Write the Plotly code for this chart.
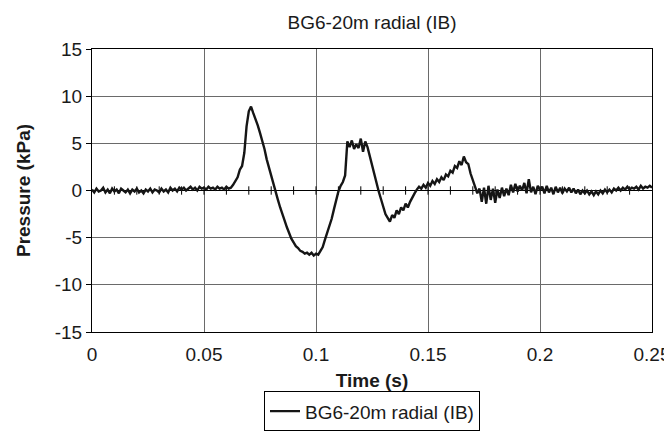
import plotly.graph_objects as go

# === Data (1 ms sampling, kPa) ===
series_name = "BG6-20m radial (IB)"
pressure_kpa = [
    # 0.000 - 0.062
    0.1, -0.2, 0.2, -0.1, 0.0, 0.3, -0.2, 0.1, -0.3, 0.2,
    -0.1, 0.1, -0.3, 0.2, 0.0, -0.2, 0.1, -0.3, 0.1, -0.1,
    0.2, -0.2, 0.0, -0.3, 0.1, -0.1, 0.2, -0.2, 0.1, 0.0,
    -0.2, 0.2, -0.1, 0.1, -0.2, 0.3, 0.0, 0.2, -0.1, 0.3,
    0.1, 0.3, 0.0, 0.2, 0.4, 0.1, 0.3, 0.0, 0.4, 0.2,
    0.3, 0.1, 0.4, 0.2, 0.3, 0.1, 0.4, 0.2, 0.3, 0.1,
    0.4, 0.2, 0.3,
    # 0.063 - 0.099  first peak and trough
    0.6, 1.0, 1.4, 2.2, 2.6, 4.0, 6.8, 8.4, 8.9, 8.2,
    7.6, 6.9, 6.1, 5.3, 4.4, 3.3, 2.4, 1.4, 0.5, -0.3,
    -1.0, -1.8, -2.6, -3.2, -3.9, -4.6, -5.1, -5.5, -5.9, -6.1,
    -6.4, -6.5, -6.7, -6.6, -6.8, -6.6, -6.9,
    # 0.100 - 0.149
    -6.7, -6.8, -6.4, -6.0, -5.2, -4.5, -3.8, -3.0, -2.0, -1.0,
    -0.1, 0.5, 0.9, 1.6, 5.2, 4.6, 5.3, 4.4, 4.9, 4.5,
    5.5, 4.1, 5.2, 4.6, 3.6, 2.6, 1.7, 0.8, -0.1, -0.9,
    -1.8, -2.5, -2.9, -3.3, -2.6, -2.9, -2.1, -2.5, -1.8, -2.1,
    -1.4, -1.8, -1.2, -0.7, -0.3, 0.1, 0.4, 0.2, 0.6, 0.3,
    # 0.150 - 0.199
    0.8, 0.5, 1.0, 0.7, 1.2, 0.9, 1.4, 1.1, 1.7, 1.5,
    2.1, 1.9, 2.6, 2.4, 3.1, 2.7, 3.6, 3.0, 2.8, 1.8,
    1.0, 0.4, -0.3, 0.2, -1.2, 0.3, -1.4, 0.5, -1.0, 0.2,
    -1.3, 0.1, -0.8, 0.3, -0.6, 0.2, -0.5, 0.6, -0.2, 0.7,
    -0.1, 0.5, 0.0, 0.8, -0.3, 1.2, -0.2, 0.4, -0.4, 0.5,
    # 0.200 - 0.250
    0.0, 0.4, -0.3, 0.5, -0.2, 0.3, -0.4, 0.4, -0.2, 0.3,
    -0.3, 0.2, -0.1, 0.3, -0.2, 0.2, -0.3, 0.1, -0.4, 0.0,
    -0.3, 0.0, -0.4, -0.1, -0.5, -0.1, -0.4, 0.0, -0.3, 0.1,
    -0.2, 0.1, -0.2, 0.2, 0.0, 0.3, 0.0, 0.3, 0.1, 0.4,
    0.1, 0.3, 0.2, 0.4, 0.1, 0.5, 0.2, 0.4, 0.3, 0.5,
    0.3,
]
time_s = [round(i * 0.001, 3) for i in range(len(pressure_kpa))]

x_ticks = [0, 0.05, 0.1, 0.15, 0.2, 0.25]
x_ticklabels = ["0", "0.05", "0.1", "0.15", "0.2", "0.25"]
x_minor = [round(i * 0.01, 2) for i in range(1, 25)]
y_ticks = [-15, -10, -5, 0, 5, 10, 15]
y_ticklabels = ["-15", "-10", "-5", "0", "5", "10", "15"]

FONT = "Liberation Sans, Arial, sans-serif"
FS = 19

fig = go.Figure()

# small tick marks on the zero-crossing axis (Excel style)
fig.add_trace(go.Scatter(
    x=x_minor, y=[0] * len(x_minor),
    mode="markers",
    marker=dict(symbol="line-ns", size=6, line=dict(width=1, color="black")),
    showlegend=False, hoverinfo="skip"
))

fig.add_trace(go.Scatter(
    x=time_s, y=pressure_kpa,
    mode="lines",
    name=series_name,
    line=dict(color="#151515", width=2.4)
))

# page body has an 8px margin, so the figure is 8px smaller each way
fig.update_layout(
    width=664, height=433,
    margin=dict(l=84, r=20, t=41, b=109, autoexpand=False),
    paper_bgcolor="white", plot_bgcolor="white",
    font=dict(family=FONT, size=FS, color="#1a1a1a"),
    title=dict(text=series_name, xref="paper", x=0.5, xanchor="center",
               yref="container", y=0.968, yanchor="middle", font=dict(size=FS)),
    showlegend=True,
    legend=dict(orientation="h", x=0.5, xanchor="center", y=-0.28, yanchor="middle",
                bordercolor="black", borderwidth=1, font=dict(size=FS),
                itemwidth=30),
)
fig.update_xaxes(
    range=[0, 0.25], tickvals=x_ticks, ticktext=x_ticklabels,
    showgrid=True, gridcolor="#6a6a6a", gridwidth=1,
    showline=True, linecolor="black", linewidth=1, mirror=True,
    ticks="outside", ticklen=5, tickcolor="rgba(0,0,0,0)", zeroline=False,
    title=dict(text="<b>Time (s)</b>", standoff=9, font=dict(size=FS)),
)
fig.update_yaxes(
    range=[-15, 15], tickvals=y_ticks, ticktext=y_ticklabels,
    showgrid=True, gridcolor="#6a6a6a", gridwidth=1,
    showline=True, linecolor="black", linewidth=1, mirror=True,
    ticks="outside", ticklen=5, tickcolor="black",
    zeroline=True, zerolinecolor="black", zerolinewidth=1,
    title=dict(text="<b>Pressure (kPa)</b>", standoff=19, font=dict(size=FS)),
)

fig.write_html("out.html")
